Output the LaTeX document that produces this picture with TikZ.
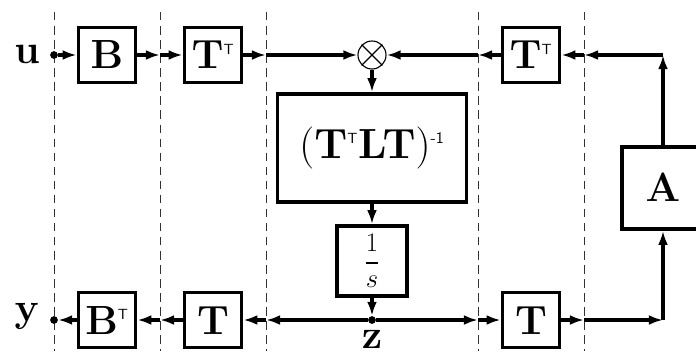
\RequirePackage{fix-cm}
\documentclass[tikz,border=0pt]{standalone}
\usetikzlibrary{arrows.meta, positioning}
\newcommand{\trp}{^{\hbox{\fontsize{10.5}{11}\selectfont\sffamily T}}}
\newcommand{\mone}{^{\hbox{\fontsize{11.5}{12}\selectfont\sffamily -1}}}
\tikzset{
  blk/.style={draw, line width=2.6pt, minimum width=1.425cm, minimum height=1.375cm,
    inner sep=0pt, font=\fontsize{29}{32}\selectfont},
  sig/.style={-{Latex[length=10pt,width=7pt]}, line width=2.9pt},
  dot/.style={circle, fill, inner sep=0pt, minimum size=5.5pt},
  sep/.style={line width=0.6pt, black!80, dash pattern=on 6pt off 4pt},
  lbl/.style={inner sep=0pt, font=\fontsize{29}{32}\selectfont},
}

\begin{document}
\begin{tikzpicture}[x=0.025cm, y=-0.025cm]
  \useasboundingbox (0,0) rectangle (696,351);
  % stage borders
  \foreach \x in {54,160,266,478,584} \draw[sep] (\x,12) -- (\x,351);
  % dashed crossings of the two signal lines
  \foreach \x [count=\i] in {160,266,478,584} {
    \coordinate (qt\i) at (\x,55);
    \coordinate (qb\i) at (\x,320);
  }
  \coordinate (ctop) at (663,55);
  \coordinate (cbot) at (663,320);
  % input side
  \node[lbl] (u) at (27,54) {$\mathbf{u}$};
  \node[dot] (uin) at (54,55) {};
  \node[blk] (B) at (107,55) {$\mathbf{B}$};
  \node[blk] (Tt1) at (213,55) {$\mathbf{T}\trp$};
  \node[circle, draw, line width=0.8pt, minimum size=0.7cm, inner sep=0pt] (mul) at (372,55) {};
  \draw[line width=0.8pt] (mul.north west) -- (mul.south east) (mul.north east) -- (mul.south west);
  \node[blk] (Tt2) at (531,55) {$\mathbf{T}\trp$};
  % core
  \node[blk, minimum width=4.725cm, minimum height=2.7cm, font=\fontsize{30}{34}\selectfont]
    (inv) at (372,148) {$(\mathbf{T}\trp\mathbf{L}\mathbf{T})\mone$};
  \node[blk, minimum width=1.75cm, minimum height=1.75cm, font=\fontsize{19}{23}\selectfont]
    (int) at (372,261) {$\displaystyle{1\above1.8pt s}$};
  \node[dot] (z) at (372,320) {};
  \node[lbl] (zl) at (372,339) {$\mathbf{z}$};
  \node[blk, minimum width=2.05cm, minimum height=2.05cm] (A) at (663,188) {$\mathbf{A}$};
  % output side
  \node[blk] (T2) at (531,320) {$\mathbf{T}$};
  \node[blk] (T1) at (213,320) {$\mathbf{T}$};
  \node[blk] (Bt) at (107,320) {$\mathbf{B}\trp$};
  \node[dot] (yout) at (54,320) {};
  \node[lbl] (y) at (27,316) {$\mathbf{y}$};

  % top line
  \draw[sig] (uin) -- (B);
  \draw[sig] (B) -- (qt1);
  \draw[sig] (qt1) -- (Tt1);
  \draw[sig] (Tt1) -- (qt2);
  \draw[sig] (qt2) -- (mul);
  \draw[sig] (A) -- (ctop);
  \draw[sig] (ctop) -- (qt4);
  \draw[sig] (qt4) -- (Tt2);
  \draw[sig] (Tt2) -- (qt3);
  \draw[sig] (qt3) -- (mul);
  % down the middle
  \draw[sig] (mul) -- (inv);
  \draw[sig] (inv) -- (int);
  \draw[sig] (int) -- (z);
  % bottom line
  \draw[sig] (z) -- (qb2);
  \draw[sig] (qb2) -- (T1);
  \draw[sig] (T1) -- (qb1);
  \draw[sig] (qb1) -- (Bt);
  \draw[sig] (Bt) -- (yout);
  \draw[sig] (z) -- (qb3);
  \draw[sig] (qb3) -- (T2);
  \draw[sig] (T2) -- (qb4);
  \draw[sig] (qb4) -- (cbot);
  \draw[sig] (cbot) -- (A);
\end{tikzpicture}
\end{document}
